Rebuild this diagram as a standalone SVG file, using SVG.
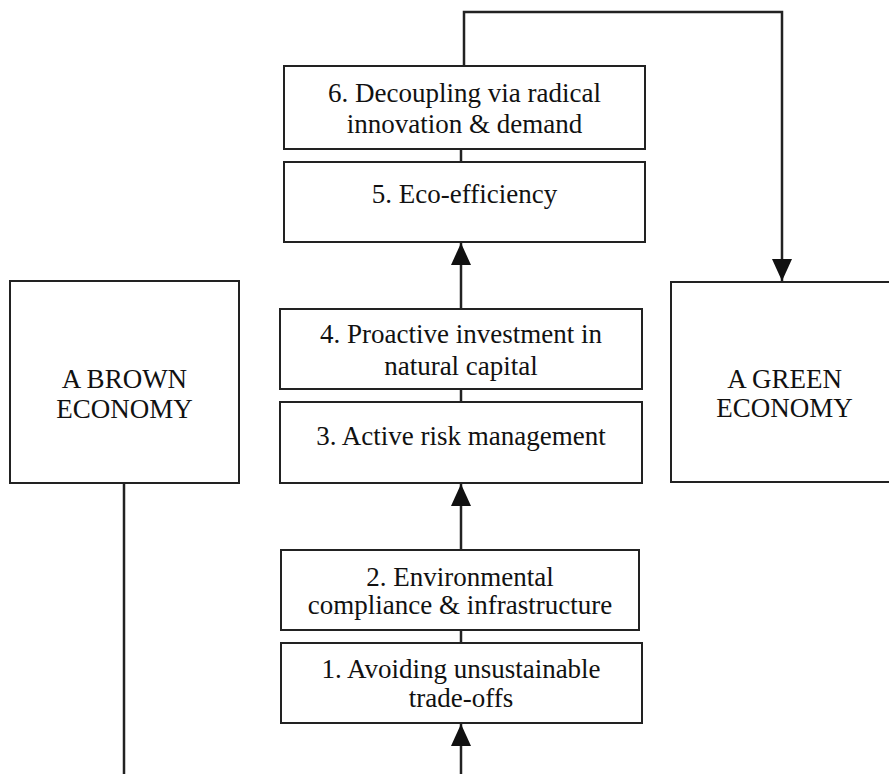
<svg xmlns="http://www.w3.org/2000/svg" width="889" height="774" viewBox="0 0 889 774">
  <style>
    .box { fill: #ffffff; stroke: #222222; stroke-width: 2; }
    .lbl { font-family: 'Liberation Serif', 'DejaVu Serif', serif; font-size: 27px; fill: #111111; text-anchor: middle; }
    .wire { fill: none; stroke: #222222; stroke-width: 2.5; }
  </style>
  <defs>
    <marker id="arrow" viewBox="0 0 22 20" refX="22" refY="10" markerWidth="22" markerHeight="20" markerUnits="userSpaceOnUse" orient="auto">
      <path d="M0,0 L22,10 L0,20 Z" fill="#111111"/>
    </marker>
  </defs>
  <rect width="889" height="774" fill="#ffffff"/>

  <!-- connectors -->
  <g id="connectors">
    <!-- brown economy down-line -->
    <line class="wire" x1="124" y1="483" x2="124" y2="774"/>
    <!-- entry into step 1 -->
    <line class="wire" x1="461" y1="774" x2="461" y2="724" marker-end="url(#arrow)"/>
    <!-- step links -->
    <line class="wire" x1="461" y1="630" x2="461" y2="643"/>
    <line class="wire" x1="461" y1="550" x2="461" y2="484" marker-end="url(#arrow)"/>
    <line class="wire" x1="461" y1="389" x2="461" y2="402"/>
    <line class="wire" x1="461" y1="309" x2="461" y2="243" marker-end="url(#arrow)"/>
    <line class="wire" x1="461" y1="149" x2="461" y2="162"/>
    <!-- from step 6 across to the green economy -->
    <polyline class="wire" points="464,66 464,12 782,12 782,281" marker-end="url(#arrow)"/>
  </g>

  <g id="brown">
    <rect class="box" x="10" y="281" width="229" height="202"/>
    <text class="lbl" x="124.5" y="388" font-family="Liberation Serif">A BROWN</text>
    <text class="lbl" x="124.5" y="418" font-family="Liberation Serif">ECONOMY</text>
  </g>

  <g id="green">
    <rect class="box" x="671" y="282" width="227" height="200"/>
    <text class="lbl" x="784.5" y="388">A GREEN</text>
    <text class="lbl" x="784.5" y="417">ECONOMY</text>
  </g>

  <g id="step6">
    <rect class="box" x="284" y="66" width="361" height="83"/>
    <text class="lbl" x="464.5" y="102">6. Decoupling via radical</text>
    <text class="lbl" x="464.5" y="133">innovation &amp; demand</text>
  </g>

  <g id="step5">
    <rect class="box" x="284" y="162" width="361" height="80"/>
    <text class="lbl" x="464.5" y="203">5. Eco-efficiency</text>
  </g>

  <g id="step4">
    <rect class="box" x="280" y="309" width="362" height="80"/>
    <text class="lbl" x="461" y="343">4. Proactive investment in</text>
    <text class="lbl" x="461" y="375">natural capital</text>
  </g>

  <g id="step3">
    <rect class="box" x="280" y="402" width="362" height="81"/>
    <text class="lbl" x="461" y="445">3. Active risk management</text>
  </g>

  <g id="step2">
    <rect class="box" x="281" y="550" width="358" height="80"/>
    <text class="lbl" x="460" y="586">2. Environmental</text>
    <text class="lbl" x="460" y="614">compliance &amp; infrastructure</text>
  </g>

  <g id="step1">
    <rect class="box" x="281" y="643" width="361" height="80"/>
    <text class="lbl" x="461" y="678">1. Avoiding unsustainable</text>
    <text class="lbl" x="461" y="707">trade-offs</text>
  </g>
</svg>
